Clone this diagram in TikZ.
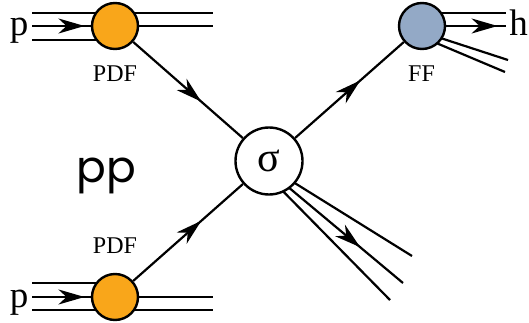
\documentclass[tikz,border=0pt]{standalone}
\usepackage{fontspec}
\setmainfont{Liberation Serif}
\newfontfamily\ppfont{Poppins}
\usetikzlibrary{arrows.meta}
\usetikzlibrary{decorations.markings}
\definecolor{pdforange}{HTML}{F9A61A}
\definecolor{ffblue}{HTML}{93A9C6}

\begin{document}
\begin{tikzpicture}[x=1pt, y=-1pt, line width=2.2pt,
  blob/.style={shape=circle, draw, line width=2.4pt, inner sep=0, minimum size=#1},
  tip/.style={postaction={decorate}, decoration={markings,
    mark=at position #1 with {\arrow{Stealth[length=26pt, width=15pt, inset=8pt]}}}},
  small/.style={anchor=base, font=\fontsize{24}{28}\selectfont},
  big/.style={anchor=base, font=\fontsize{37}{40}\selectfont}]
  \useasboundingbox (0,0) rectangle (529,323);

  % incoming protons
  \coordinate (pa1) at (32,13);  \coordinate (qa1) at (213,13);
  \coordinate (pa2) at (32,26);  \coordinate (qa2) at (213,26);
  \coordinate (pa3) at (32,40);  \coordinate (qa3) at (115,40);
  \draw (pa1) -- (qa1);
  \draw [tip=0.29] (pa2) -- (qa2);
  \draw (pa3) -- (qa3);
  \coordinate (pb1) at (32,283);  \coordinate (qb1) at (115,283);
  \coordinate (pb2) at (32,297);  \coordinate (qb2) at (213,297);
  \coordinate (pb3) at (32,310);  \coordinate (qb3) at (213,310);
  \draw (pb1) -- (qb1);
  \draw [tip=0.29] (pb2) -- (qb2);
  \draw (pb3) -- (qb3);

  % outgoing jets
  \coordinate (s1) at (269,167);  \coordinate (t1) at (412,256);
  \coordinate (s2) at (269,171);  \coordinate (t2) at (403,283);
  \coordinate (s3) at (269,177);  \coordinate (t3) at (390,300);
  \draw (s1) -- (t1);
  \draw [tip=0.68] (s2) -- (t2);
  \draw (s3) -- (t3);
  \coordinate (f1) at (422,13);  \coordinate (g1) at (506,13);
  \coordinate (f2) at (422,26);  \coordinate (g2) at (506,26);
  \coordinate (f3) at (422,32);  \coordinate (g3) at (508,60);
  \coordinate (f4) at (422,37);  \coordinate (g4) at (505,72);
  \draw (f1) -- (g1);
  \draw [tip=0.9] (f2) -- (g2);
  \draw (f3) -- (g3);
  \draw (f4) -- (g4);

  \node [blob=46pt, fill=pdforange] (pdfa) at (115,26) {};
  \node [blob=46pt, fill=pdforange] (pdfb) at (115,297) {};
  \node [blob=67pt, fill=white] (sig) at (269,161) {\fontsize{42}{44}\selectfont σ};
  \node [blob=46pt, fill=ffblue] (ff) at (422,26) {};

  \draw [tip=0.62] (pdfa) -- (sig);
  \draw [tip=0.62] (pdfb) -- (sig);
  \draw [tip=0.6] (sig) -- (ff);

  \node [big] (pa) at (19,36) {p};
  \node [big] (pb) at (19,307) {p};
  \node [big] (h) at (518.5,36) {h};
  \node [small] (lpdfa) at (115,82) {PDF};
  \node [small] (lpdfb) at (115,253) {PDF};
  \node [small] (lff) at (421.5,82) {FF};
  \node [anchor=base, font=\ppfont\fontsize{44}{48}\selectfont] (pp) at (106,182) {pp};
\end{tikzpicture}
\end{document}
